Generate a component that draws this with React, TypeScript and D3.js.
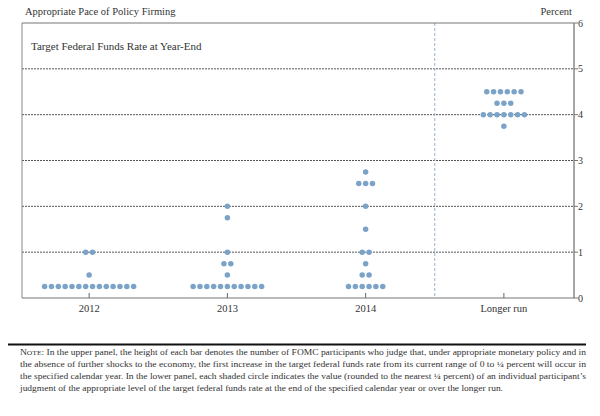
import React from "react";
import * as d3 from "d3";

const categories = ["2012", "2013", "2014", "Longer run"];
const levels2012 = [0.25, 0.5, 1.0];
const counts2012 = [14, 1, 2];
const levels2013 = [0.25, 0.5, 0.75, 1.0, 1.75, 2.0];
const counts2013 = [11, 1, 2, 1, 1, 1];
const levels2014 = [0.25, 0.5, 0.75, 1.0, 1.5, 2.0, 2.5, 2.75];
const counts2014 = [6, 2, 1, 2, 1, 1, 3, 1];
const levelsLong = [3.75, 4.0, 4.25, 4.5];
const countsLong = [1, 7, 3, 6];
const yTicks = [0, 1, 2, 3, 4, 5, 6];
const gridTicks = [1, 2, 3, 4, 5];

const noteLines = [
  "In the upper panel, the height of each bar denotes the number of FOMC participants who judge that, under appropriate monetary policy and in",
  "the absence of further shocks to the economy, the first increase in the target federal funds rate from its current range of 0 to \u00BC percent will occur in",
  "the specified calendar year.  In the lower panel, each shaded circle indicates the value (rounded to the nearest \u00BC percent) of an individual participant\u2019s",
  "judgment of the appropriate level of the target federal funds rate at the end of the specified calendar year or over the longer run.",
];

const series = [
  { cat: categories[0], levels: levels2012, counts: counts2012 },
  { cat: categories[1], levels: levels2013, counts: counts2013 },
  { cat: categories[2], levels: levels2014, counts: counts2014 },
  { cat: categories[3], levels: levelsLong, counts: countsLong },
];

const W = 600;
const H = 416;
const left = 22;
const right = 574;
const top = 23;
const bottom = 298;
const dotStep = 6.85;
const dotR = 2.75;
const font = "'Liberation Serif', 'DejaVu Serif', serif";

export default function App() {
  const x = d3.scaleBand<string>().domain(categories).range([20, 573]).padding(0);
  const y = d3.scaleLinear().domain([0, 6]).range([bottom, top]);

  const dots: { cx: number; cy: number; key: string }[] = [];
  series.forEach((s) => {
    const c = (x(s.cat) as number) + x.bandwidth() / 2;
    s.levels.forEach((lv, i) => {
      const n = s.counts[i];
      for (let k = 0; k < n; k++) {
        dots.push({ cx: c + (k - (n - 1) / 2) * dotStep, cy: y(lv), key: `${s.cat}-${lv}-${k}` });
      }
    });
  });

  const dividerX = x(categories[3]) as number;

  return (
    <svg width={W} height={H} style={{ position: "absolute", left: 0, top: 0, background: "#fff" }} fontFamily={font}>
      <rect x={0} y={0} width={W} height={H} fill="#fff" />
      <text x={25} y={15} fontSize={10.5} fill="#333">Appropriate Pace of Policy Firming</text>
      <text x={572} y={15} fontSize={10.5} fill="#333" textAnchor="end">Percent</text>

      {gridTicks.map((t) => (
        <line key={t} x1={left} x2={right} y1={y(t)} y2={y(t)} stroke="#555" strokeWidth={1} strokeDasharray="2,1" />
      ))}
      <line x1={dividerX} x2={dividerX} y1={top} y2={bottom} stroke="#9ab0c4" strokeWidth={1} strokeDasharray="3,2" />

      <line x1={left} x2={left} y1={top} y2={bottom} stroke="#888" strokeWidth={1} />
      <line x1={left} x2={right} y1={top} y2={top} stroke="#777" strokeWidth={1.2} />
      <line x1={right} x2={right} y1={top} y2={bottom} stroke="#888" strokeWidth={1.5} />
      <line x1={left} x2={right} y1={bottom} y2={bottom} stroke="#777" strokeWidth={1.2} />

      {yTicks.map((t) => (
        <g key={t}>
          <line x1={right} x2={right + 4} y1={y(t)} y2={y(t)} stroke="#777" strokeWidth={1} />
          <text x={578} y={y(t) + 3.5} fontSize={10} fill="#333">{t}</text>
        </g>
      ))}

      {categories.map((c) => {
        const cx = (x(c) as number) + x.bandwidth() / 2;
        return (
          <g key={c}>
            <line x1={cx} x2={cx} y1={bottom} y2={bottom - 5} stroke="#666" strokeWidth={1} />
            <text x={cx} y={312} fontSize={10.5} fill="#333" textAnchor="middle">{c}</text>
          </g>
        );
      })}

      <text x={31} y={50} fontSize={11} fill="#333">Target Federal Funds Rate at Year-End</text>

      {dots.map((d) => (
        <circle key={d.key} cx={d.cx} cy={d.cy} r={dotR} fill="#7ba3c8" />
      ))}

      <line x1={8} x2={586} y1={344.5} y2={344.5} stroke="#111" strokeWidth={2} />
      <text x={20} y={355} fontSize={8.3} fill="#333" textLength={566} lengthAdjust="spacingAndGlyphs">
        <tspan fontSize={8.3}>N</tspan>
        <tspan fontSize={6.6}>OTE</tspan>
        <tspan>{": " + noteLines[0]}</tspan>
      </text>
      <text x={20} y={367} fontSize={8.3} fill="#333" textLength={566} lengthAdjust="spacingAndGlyphs">{noteLines[1]}</text>
      <text x={20} y={379} fontSize={8.3} fill="#333" textLength={566} lengthAdjust="spacingAndGlyphs">{noteLines[2]}</text>
      <text x={20} y={391} fontSize={8.3} fill="#333" textLength={483} lengthAdjust="spacingAndGlyphs">{noteLines[3]}</text>
    </svg>
  );
}
